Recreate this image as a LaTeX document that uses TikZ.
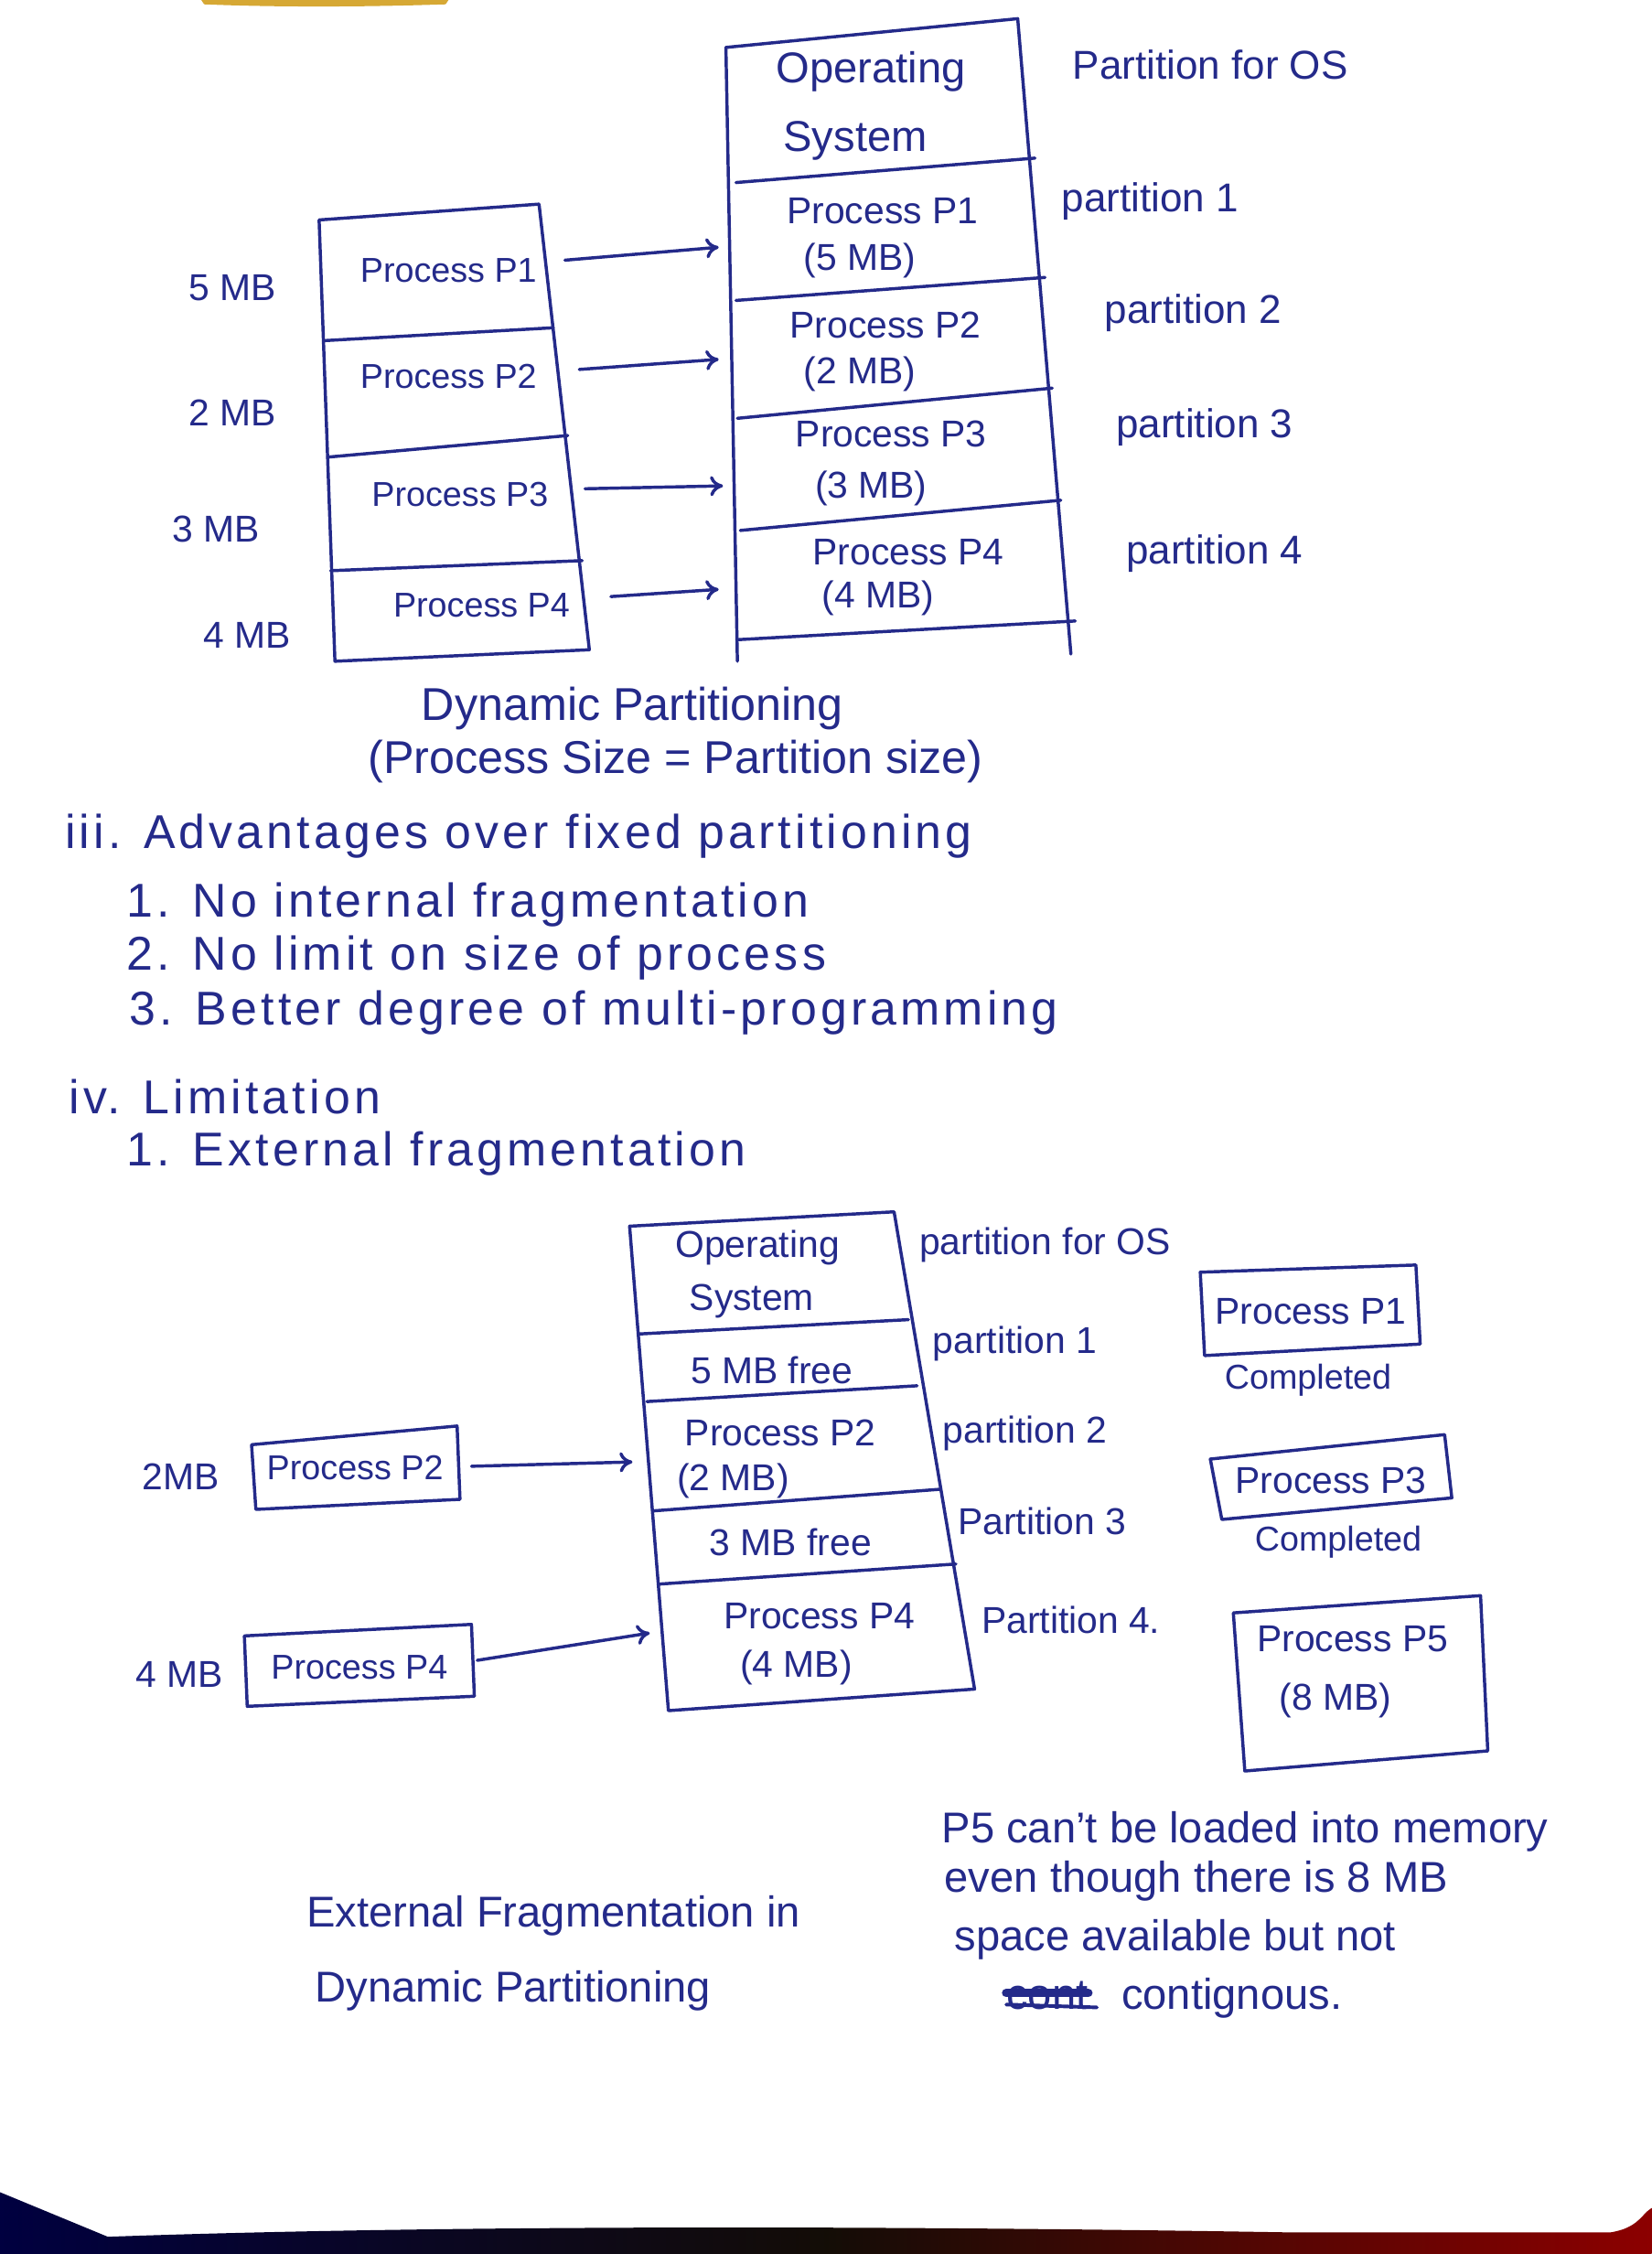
\documentclass[tikz,border=0pt]{standalone}
\usepackage{fontspec}
\setmainfont{Liberation Sans}
\newfontfamily\spaced[LetterSpace=8]{Liberation Sans}
\usetikzlibrary{arrows.meta}
\definecolor{ink}{RGB}{36,42,138}
\definecolor{tape}{RGB}{214,168,52}
\tikzset{
  hw/.style={text=ink, inner sep=0pt},
  f24/.style={hw, font=\fontsize{24}{28}\selectfont},
  f26/.style={hw, font=\fontsize{26}{30}\selectfont},
  f28/.style={hw, font=\fontsize{28}{32}\selectfont},
  f30/.style={hw, font=\fontsize{30}{34}\selectfont},
  f32/.style={hw, font=\fontsize{32}{36}\selectfont},
  notes/.style={hw, anchor=base west, font=\spaced\fontsize{33}{36}\selectfont},
  pen/.style={draw=ink, line width=2.2pt, line join=round, line cap=round},
  arr/.style={pen, -{To[length=9pt,width=14pt]}},
}
\begin{document}
\begin{tikzpicture}[x=1pt,y=-1pt]
% sheet and its edges
\fill[white] (0,0) rectangle (1149,1568);
\useasboundingbox (0,0) rectangle (1149,1568);
\fill[tape] (140,0) -- (312,0) -- (310,3) .. controls (250,5) and (190,5) .. (142,3) -- cycle;
\shade[left color=black!75!blue, right color=red!55!black, middle color=black!90!brown]
  (0,1525) -- (75,1556) .. controls (300,1548) and (600,1548) .. (900,1553)
  -- (1120,1553) .. controls (1140,1550) and (1142,1540) .. (1149,1536)
  -- (1149,1568) -- (0,1568) -- cycle;

% ---------- dynamic partitioning: incoming processes ----------
\draw[pen] (222,153) -- (375,142) -- (410,452) -- (233,460) -- cycle;
\draw[pen] (225,237) -- (385,228);
\draw[pen] (228,318) -- (395,303);
\draw[pen] (230,397) -- (405,390);
\node[f24] (ip1) at (312,188) {Process P1};
\node[f24] (ip2) at (312,262) {Process P2};
\node[f24] (ip3) at (320,344) {Process P3};
\node[f24] (ip4) at (335,421) {Process P4};
\node[f26] (s1) at (162,200) {5 MB};
\node[f26] (s2) at (162,287) {2 MB};
\node[f26] (s3) at (150,368) {3 MB};
\node[f26] (s4) at (172,442) {4 MB};

% ---------- dynamic partitioning: memory ----------
\draw[pen] (505,33) -- (708,13) -- (745,455);
\draw[pen] (505,33) -- (513,460);
\draw[pen] (512,127) -- (720,110);
\draw[pen] (512,209) -- (727,193);
\draw[pen] (513,291) -- (732,270);
\draw[pen] (515,369) -- (738,348);
\draw[pen] (513,445) -- (748,432);
\node[f30] (os1) at (606,50) {Operating};
\node[f30] (os2) at (595,98) {System};
\node[f26] (m1) at (614,147) {Process P1};
\node[f26] (m1s) at (598,181) {(5 MB)};
\node[f26] (m2) at (616,226) {Process P2};
\node[f26] (m2s) at (598,260) {(2 MB)};
\node[f26] (m3) at (620,302) {Process P3};
\node[f26] (m3s) at (606,340) {(3 MB)};
\node[f26] (m4) at (632,384) {Process P4};
\node[f26] (m4s) at (611,416) {(4 MB)};
\node[f28] (lo) at (842,45) {Partition for OS};
\node[f28] (l1) at (800,140) {partition 1};
\node[f28] (l2) at (830,218) {partition 2};
\node[f28] (l3) at (838,297) {partition 3};
\node[f28] (l4) at (845,385) {partition 4};

\coordinate (a1) at (393,181); \coordinate (b1) at (500,172);
\coordinate (a2) at (403,257); \coordinate (b2) at (500,250);
\coordinate (a3) at (407,340); \coordinate (b3) at (503,338);
\coordinate (a4) at (425,415); \coordinate (b4) at (500,410);
\draw[arr] (a1) -- (b1);
\draw[arr] (a2) -- (b2);
\draw[arr] (a3) -- (b3);
\draw[arr] (a4) -- (b4);

\node[f32] (cap1) at (440,493) {Dynamic Partitioning};
\node[f32] (cap2) at (470,530) {(Process Size = Partition size)};

% ---------- notes ----------
\node[notes] (n1) at (45,590) {iii. Advantages over fixed partitioning};
\node[notes] (n2) at (88,638) {1. No internal fragmentation};
\node[notes] (n3) at (88,675) {2. No limit on size of process};
\node[notes] (n4) at (90,713) {3. Better degree of multi-programming};
\node[notes] (n5) at (48,775) {iv. Limitation};
\node[notes] (n6) at (88,811) {1. External fragmentation};

% ---------- external fragmentation: memory ----------
\draw[pen] (438,853) -- (622,843) -- (678,1175) -- (465,1190) -- cycle;
\draw[pen] (444,928) -- (632,918);
\draw[pen] (450,975) -- (638,964);
\draw[pen] (455,1051) -- (654,1036);
\draw[pen] (458,1102) -- (665,1088);
\node[f26] (eos1) at (527,868) {Operating};
\node[f26] (eos2) at (523,905) {System};
\node[f26] (ef1) at (537,953) {5 MB free};
\node[f26] (ep2) at (543,997) {Process P2};
\node[f26] (ep2s) at (510,1030) {(2 MB)};
\node[f26] (ef3) at (550,1073) {3 MB free};
\node[f26] (ep4) at (570,1124) {Process P4};
\node[f26] (ep4s) at (554,1160) {(4 MB)};
\node[f26] (elo) at (727,866) {partition for OS};
\node[f26] (el1) at (706,935) {partition 1};
\node[f26] (el2) at (713,997) {partition 2};
\node[f26] (el3) at (725,1058) {Partition 3};
\node[f26] (el4) at (745,1127) {Partition 4.};

% processes still running
\draw[pen] (175,1005) -- (318,992) -- (320,1043) -- (178,1050) -- cycle;
\draw[pen] (170,1138) -- (328,1130) -- (330,1180) -- (172,1187) -- cycle;
\node[f24] (rp2) at (247,1021) {Process P2};
\node[f24] (rp4) at (250,1160) {Process P4};
\node[f26] (rs2) at (126,1027) {2MB};
\node[f26] (rs4) at (125,1165) {4 MB};
\coordinate (c2) at (328,1020); \coordinate (d2) at (440,1017);
\coordinate (c4) at (332,1155); \coordinate (d4) at (452,1136);
\draw[arr] (c2) -- (d2);
\draw[arr] (c4) -- (d4);

% finished and waiting processes
\draw[pen] (835,885) -- (985,880) -- (988,935) -- (838,943) -- cycle;
\draw[pen] (842,1015) -- (1005,998) -- (1010,1042) -- (850,1057) -- cycle;
\draw[pen] (858,1122) -- (1030,1110) -- (1035,1218) -- (866,1232) -- cycle;
\node[f26] (q1) at (912,912) {Process P1};
\node[f24] (q1c) at (910,960) {Completed};
\node[f26] (q3) at (926,1030) {Process P3};
\node[f24] (q3c) at (931,1073) {Completed};
\node[f26] (q5) at (941,1140) {Process P5};
\node[f26] (q5s) at (929,1183) {(8 MB)};

% captions
\node[f30] (ec1) at (385,1333) {External Fragmentation in};
\node[f30] (ec2) at (357,1385) {Dynamic Partitioning};
\node[f30, anchor=base west] (w1) at (655,1282) {P5 can't be loaded into memory};
\node[f30, anchor=base west] (w2) at (657,1316) {even though there is 8 MB};
\node[f30, anchor=base west] (w3) at (664,1357) {space available but not};
\node[f30, anchor=base west] (wx) at (700,1398) {cont};
\draw[draw=ink, line width=6pt, line cap=round] ([yshift=2pt]wx.west) -- ([yshift=2pt]wx.east);
\draw[draw=ink, line width=2.5pt, line cap=round] ([yshift=-6pt]wx.west) -- ([xshift=6pt,yshift=-8pt]wx.east);
\node[f30, anchor=base west] (w4) at (780,1398) {contignous.};
\end{tikzpicture}
\end{document}
